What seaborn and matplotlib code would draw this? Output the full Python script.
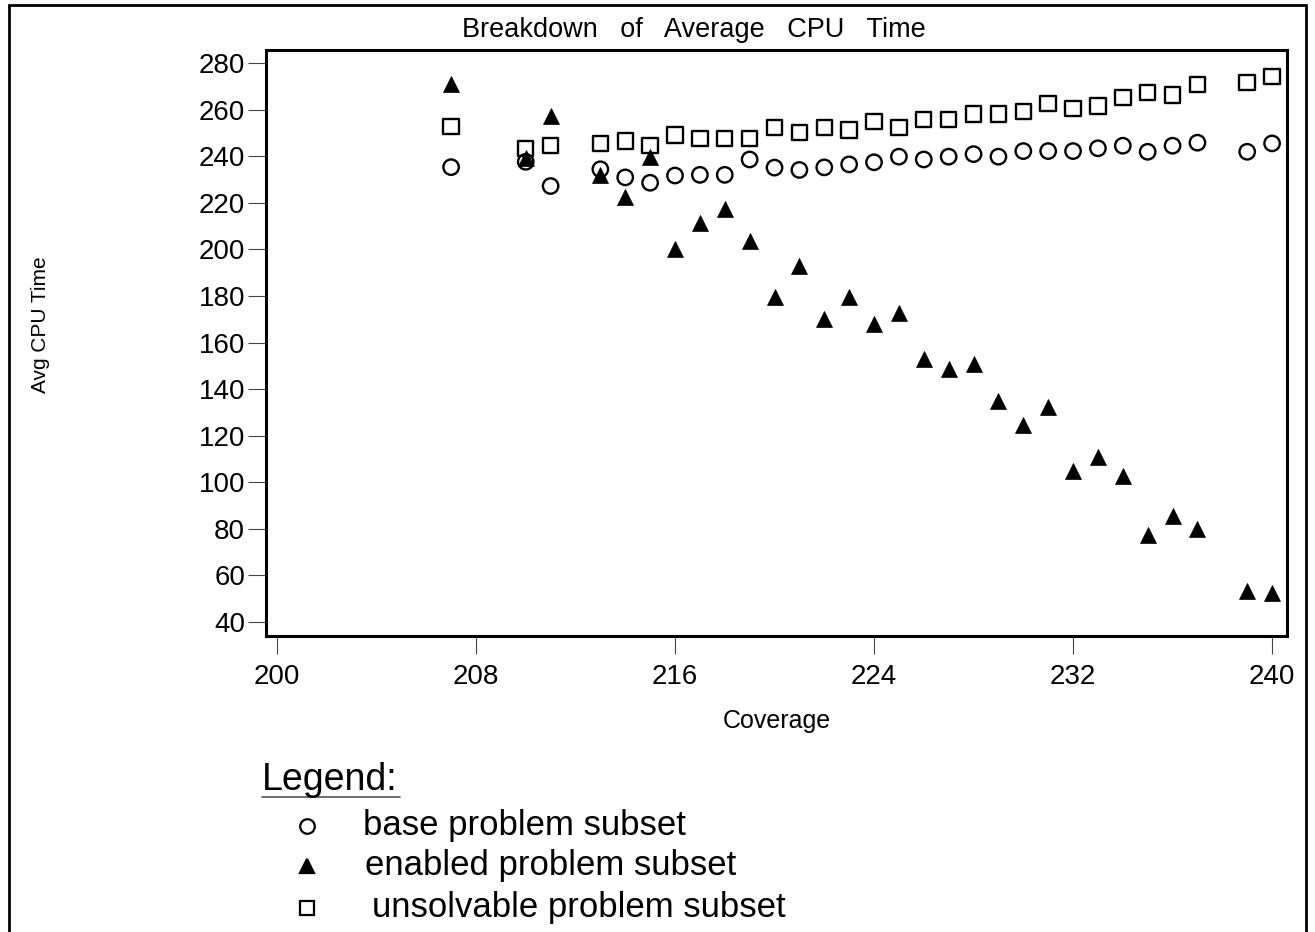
import matplotlib
matplotlib.use("Agg")
import matplotlib.pyplot as plt
from matplotlib.lines import Line2D
from matplotlib.patches import Rectangle
import seaborn as sns
import pandas as pd

# Values
coverage = [207, 210, 211, 213, 214, 215, 216, 217, 218, 219, 220, 221, 222, 223, 224,
            225, 226, 227, 228, 229, 230, 231, 232, 233, 234, 235, 236, 237, 239, 240]
base_cpu = [235.3, 237.6, 227.2, 234.4, 230.9, 228.6, 231.7, 232.0, 232.0, 238.6, 235.1, 234.1,
            235.2, 236.5, 237.4, 239.8, 238.6, 239.8, 240.9, 239.8, 242.2, 242.2, 242.2, 243.4,
            244.5, 241.9, 244.5, 245.8, 241.9, 245.5]
enabled_cpu = [271.0, 239.1, 257.2, 231.9, 222.6, 239.8, 200.0, 211.4, 217.2, 203.6, 179.4, 193.0,
               170.2, 179.4, 167.8, 172.5, 153.0, 148.5, 150.8, 134.9, 124.6, 132.4, 105.0, 110.7,
               102.7, 77.5, 85.5, 79.8, 53.4, 52.3]
unsolvable_cpu = [252.7, 243.4, 244.5, 245.5, 246.6, 244.5, 249.1, 247.7, 247.7, 247.7, 252.4, 250.1,
                  252.4, 251.2, 254.8, 252.4, 255.8, 255.8, 258.1, 258.1, 259.1, 262.7, 260.5, 261.5,
                  265.1, 267.4, 266.3, 270.9, 271.7, 274.1]
series_names = ["base problem subset", "enabled problem subset", "unsolvable problem subset"]
x_ticks = [200, 208, 216, 224, 232, 240]
y_ticks = [40, 60, 80, 100, 120, 140, 160, 180, 200, 220, 240, 260, 280]

df = pd.concat([
    pd.DataFrame({"Coverage": coverage, "cpu": base_cpu, "subset": series_names[0]}),
    pd.DataFrame({"Coverage": coverage, "cpu": enabled_cpu, "subset": series_names[1]}),
    pd.DataFrame({"Coverage": coverage, "cpu": unsolvable_cpu, "subset": series_names[2]}),
])

sns.set_theme(style="ticks")
plt.rcParams["font.family"] = ["Liberation Sans", "DejaVu Sans"]
plt.rcParams["text.color"] = "black"
plt.rcParams["axes.labelcolor"] = "black"

fig = plt.figure(figsize=(13.15, 9.32), dpi=100)
W, H = 1315, 932
ax = fig.add_axes([266 / W, 1 - 636 / H, (1287 - 266) / W, (636 - 50) / H])

# marker style per subset
styles = {
    series_names[0]: dict(marker="o", s=123, facecolor="none", edgecolor="black", linewidth=1.7),
    series_names[1]: dict(marker="^", s=132, color="black", edgecolor="black", linewidth=0.5),
    series_names[2]: dict(marker="s", s=123, facecolor="none", edgecolor="black", linewidth=1.7),
}
for name, grp in df.groupby("subset"):
    st = styles[name]
    sns.scatterplot(data=grp, x="Coverage", y="cpu", ax=ax, legend=False, zorder=3, **st)

ax.set_xlim(199.56, 240.6)
ax.set_ylim(34.0, 285.6)
ax.set_xticks(x_ticks)
ax.set_yticks(y_ticks)
ax.tick_params(axis="both", labelsize=20, length=13, width=0.8, color="#444444",
               labelcolor="black", direction="out")
ax.tick_params(axis="x", pad=7)
ax.tick_params(axis="y", pad=2)
for sp in ax.spines.values():
    sp.set_visible(True)
    sp.set_linewidth(2.2)
    sp.set_color("black")

ax.set_xlabel("Coverage", fontsize=18, labelpad=14)
ax.set_ylabel("")
fig.text(40 / W, 1 - 325 / H, "Avg CPU Time", rotation=90, fontsize=15,
         ha="center", va="center")
fig.text(694 / W, 1 - 30 / H, "Breakdown   of   Average   CPU   Time", fontsize=19.5,
         ha="center", va="center")

# outer border (open at the bottom)
fig.add_artist(Rectangle((9 / W, -0.02), (1306 - 9) / W, 1.02 - 5 / H,
                         transform=fig.transFigure, fill=False, lw=2.0,
                         edgecolor="black", clip_on=False))

# hand-made legend block
fig.text(262 / W, 1 - 790 / H, "Legend:", fontsize=27, ha="left", va="baseline")
fig.add_artist(Line2D([262 / W, 400 / W], [1 - 797 / H, 1 - 797 / H],
                      transform=fig.transFigure, color="#555555", lw=1.2))
leg_rows = [(826, "o", "none", series_names[0], 363),
            (866, "^", "black", series_names[1], 365),
            (908, "s", "none", series_names[2], 372)]
for y, m, fc, label, tx in leg_rows:
    fig.add_artist(Line2D([307 / W], [1 - y / H], transform=fig.transFigure,
                          marker=m, markersize=10.5, markerfacecolor=fc,
                          markeredgecolor="black", markeredgewidth=1.6, linestyle="none"))
    fig.text(tx / W, 1 - y / H, label, fontsize=25, ha="left", va="center")

fig.savefig("out.png", dpi=100)
